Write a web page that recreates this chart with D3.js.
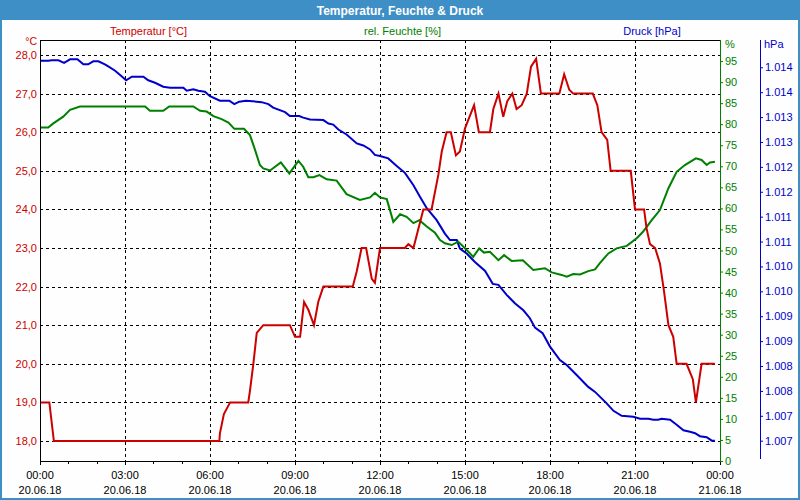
<!DOCTYPE html>
<html><head><meta charset="utf-8">
<script src="https://cdn.jsdelivr.net/npm/d3@7"></script>
<style>
html,body{margin:0;padding:0;background:#fdfefd;}
svg text{font-family:"Liberation Sans",Arial,sans-serif;}
</style></head>
<body><svg id="c" width="800" height="500"></svg>
<script>
// ---- data ----
const title = "Temperatur, Feuchte & Druck";
const seriesNames = ["Temperatur [°C]", "rel. Feuchte [%]", "Druck [hPa]"];
const xTickHours = [0,3,6,9,12,15,18,21,24];
const xTickTimes = ["00:00","03:00","06:00","09:00","12:00","15:00","18:00","21:00","00:00"];
const xTickDates = ["20.06.18","20.06.18","20.06.18","20.06.18","20.06.18","20.06.18","20.06.18","20.06.18","21.06.18"];
const tempTicks = [18,19,20,21,22,23,24,25,26,27,28];
const humTicks = [0,5,10,15,20,25,30,35,40,45,50,55,60,65,70,75,80,85,90,95];
const pressTicks = [1006.75,1007.25,1007.75,1008.25,1008.75,1009.25,1009.75,1010.25,1010.75,1011.25,1011.75,1012.25,1012.75,1013.25,1013.75,1014.25];

// temperature (hours, °C)
const tempHours = [0,0.33,0.49,6.33,6.35,6.49,6.71,7.35,7.41,7.53,7.65,7.88,8.82,9.0,9.18,9.32,9.47,9.67,9.82,10.0,11.04,11.18,11.35,11.51,11.71,11.82,12.0,12.88,13.0,13.18,13.53,13.82,14.06,14.18,14.35,14.5,14.68,14.82,15.0,15.32,15.49,15.88,16.0,16.18,16.35,16.49,16.67,16.82,17.0,17.18,17.33,17.51,17.68,18.33,18.5,18.68,18.82,19.51,19.67,19.82,20.02,20.14,20.85,21.0,21.32,21.41,21.53,21.71,21.88,22.02,22.18,22.35,22.47,22.82,23.04,23.15,23.35,23.82];
const tempValues = [19.0,19.0,18.0,18.0,18.2,18.7,19.0,19.0,19.3,20.0,20.8,21.0,21.0,20.7,20.7,21.6,21.4,21.0,21.6,22.0,22.0,22.4,23.0,23.0,22.2,22.1,23.0,23.0,23.1,23.0,24.0,24.0,24.9,25.5,26.0,26.0,25.4,25.5,26.1,26.7,26.0,26.0,26.6,27.0,26.4,26.8,27.0,26.6,26.7,27.0,27.7,27.9,27.0,27.0,27.5,27.1,27.0,27.0,26.7,26.0,25.8,25.0,25.0,24.0,24.0,23.5,23.1,23.0,22.6,21.9,21.0,20.7,20.0,20.0,19.6,19.0,20.0,20.0];

// relative humidity (hours, %)
const humHours = [0,0.29,0.47,0.82,1.06,1.41,3.71,3.88,4.35,4.56,5.41,5.65,5.88,6.12,6.41,6.65,6.86,7.2,7.41,7.59,7.76,7.88,8.12,8.5,8.8,9.12,9.29,9.47,9.65,9.86,10.12,10.47,10.82,11.29,11.65,11.82,12.0,12.24,12.47,12.71,12.94,13.18,13.39,13.65,13.94,14.12,14.29,14.53,14.76,15.06,15.29,15.5,15.67,15.88,16.18,16.38,16.65,17.04,17.41,17.82,18.06,18.41,18.59,18.82,19.06,19.35,19.59,19.76,20.06,20.35,20.71,21.06,21.29,21.59,21.88,22.18,22.47,22.76,23.15,23.35,23.53,23.65,23.82];
const humValues = [79.2,79.2,80.2,81.8,83.4,84.2,84.2,83.2,83.2,84.2,84.2,83.2,83.0,81.9,81.2,80.4,78.9,78.9,77.4,73.9,70.3,69.5,69.0,70.9,68.3,71.3,69.9,67.4,67.4,67.9,66.9,66.6,63.4,62.0,62.6,63.7,62.6,62.2,56.8,58.6,58.0,56.5,57.2,55.7,54.2,52.5,51.7,51.3,52.1,50.1,48.5,50.5,49.5,49.7,47.7,48.9,47.5,47.7,45.4,45.8,44.8,44.2,43.8,44.4,44.3,45.1,45.5,47.0,49.3,50.5,51.1,52.9,54.5,57.2,59.6,64.8,68.7,70.3,71.9,71.5,70.3,70.9,71.1];

// pressure (hours, hPa)
const pressHours = [0,0.29,0.41,0.65,0.85,1.06,1.32,1.53,1.7,1.88,2.06,2.29,2.41,2.65,2.88,3.04,3.24,3.65,3.82,4.06,4.35,4.59,5.06,5.18,5.41,5.59,5.82,6.0,6.35,6.68,6.86,7.03,7.27,7.82,8.06,8.23,8.65,8.82,9.15,9.29,9.53,10.0,10.18,10.35,10.53,10.82,11.18,11.41,11.65,11.82,12.0,12.29,12.59,12.88,13.18,13.41,13.65,14.0,14.29,14.47,14.71,14.82,15.06,15.35,15.71,15.98,16.18,16.47,16.76,17.06,17.29,17.47,17.74,18.0,18.35,18.59,18.94,19.35,19.59,20.0,20.24,20.53,20.94,21.18,21.47,21.65,21.82,21.94,22.24,22.47,22.71,22.94,23.12,23.29,23.53,23.71,23.82];
const pressValues = [1014.38,1014.38,1014.39,1014.39,1014.34,1014.41,1014.41,1014.31,1014.31,1014.37,1014.37,1014.31,1014.27,1014.18,1014.07,1013.99,1014.06,1014.06,1013.99,1013.94,1013.86,1013.84,1013.84,1013.78,1013.81,1013.78,1013.76,1013.67,1013.58,1013.58,1013.51,1013.56,1013.58,1013.55,1013.51,1013.44,1013.35,1013.27,1013.27,1013.24,1013.20,1013.19,1013.12,1013.10,1013.00,1012.90,1012.72,1012.68,1012.60,1012.49,1012.47,1012.42,1012.27,1012.13,1011.88,1011.65,1011.42,1011.18,1010.91,1010.78,1010.78,1010.61,1010.51,1010.34,1010.16,1009.90,1009.88,1009.68,1009.51,1009.37,1009.21,1009.02,1008.91,1008.64,1008.37,1008.27,1008.07,1007.83,1007.73,1007.50,1007.35,1007.25,1007.23,1007.19,1007.19,1007.17,1007.17,1007.19,1007.17,1007.07,1006.96,1006.93,1006.90,1006.84,1006.82,1006.75,1006.75];

// ---- layout ----
const L = 40, R = 720, T = 40, B = 461;
const cRed = "#cc0000", cGreen = "#008000", cBlue = "#0000cc", cBar = "#3d8fc6";
const svg = d3.select("#c");

const x = d3.scaleLinear().domain([0,24]).range([L,R]);
const yT = d3.scaleLinear().domain([18,28]).range([441,55]);
const yH = d3.scaleLinear().domain([0,100]).range([B,T]);
const yP = d3.scaleLinear().domain([1006.75,1014.25]).range([440.7,67.3]);

// frame
svg.append("rect").attr("x",1).attr("y",1).attr("width",798).attr("height",498)
  .attr("fill","#fdfefd").attr("stroke",cBar).attr("stroke-width",2);
svg.append("rect").attr("x",0).attr("y",0).attr("width",800).attr("height",20).attr("fill",cBar);
svg.append("text").attr("x",400).attr("y",14.5).attr("text-anchor","middle")
  .attr("fill","#fff").attr("font-weight","bold").attr("font-size",12).text(title);

// series labels
const labelX = [148.5, 402.5, 652];
const labelC = [cRed, cGreen, cBlue];
seriesNames.forEach((s,i)=>{
  svg.append("text").attr("x",labelX[i]).attr("y",35).attr("text-anchor","middle")
    .attr("fill",labelC[i]).attr("font-size",11).text(s);
});

// grid
const g = svg.append("g").attr("shape-rendering","crispEdges");
g.selectAll(".hg").data(tempTicks).join("line")
  .attr("x1",L).attr("x2",R).attr("y1",d=>Math.round(yT(d))+0.5).attr("y2",d=>Math.round(yT(d))+0.5)
  .attr("stroke","#000").attr("stroke-dasharray","3,3");
g.selectAll(".vg").data(xTickHours.slice(1,-1)).join("line")
  .attr("y1",T).attr("y2",B).attr("x1",d=>Math.round(x(d))+0.5).attr("x2",d=>Math.round(x(d))+0.5)
  .attr("stroke","#000").attr("stroke-dasharray","3,3");

// lines
const line = (yS)=>d3.line().x(d=>x(d[0])).y(d=>yS(d[1]));
const plot = svg.append("g");
plot.append("path").datum(pressHours.map((h,i)=>[h,pressValues[i]]))
  .attr("d",line(yP)).attr("fill","none").attr("stroke",cBlue).attr("stroke-width",2);
plot.append("path").datum(humHours.map((h,i)=>[h,humValues[i]]))
  .attr("d",line(yH)).attr("fill","none").attr("stroke",cGreen).attr("stroke-width",2);
plot.append("path").datum(tempHours.map((h,i)=>[h,tempValues[i]]))
  .attr("d",line(yT)).attr("fill","none").attr("stroke",cRed).attr("stroke-width",2);

// plot borders
const fr = svg.append("g").attr("shape-rendering","crispEdges");
fr.append("line").attr("x1",L).attr("x2",R).attr("y1",T+0.5).attr("y2",T+0.5).attr("stroke","#000");
fr.append("line").attr("x1",L+0.5).attr("x2",L+0.5).attr("y1",T).attr("y2",B).attr("stroke","#000");

// left axis labels
svg.append("text").attr("x",37).attr("y",45).attr("text-anchor","end").attr("fill",cRed).attr("font-size",10.5).text("°C");
svg.selectAll(".tl").data(tempTicks).join("text")
  .attr("x",37).attr("y",d=>yT(d)+4).attr("text-anchor","end").attr("fill",cRed).attr("font-size",11)
  .text(d=>d3.format(".1f")(d).replace(".",","));

// bottom axis
const xAxis = d3.axisBottom(x).tickValues(xTickHours).tickSize(4).tickFormat("");
const xa = svg.append("g").attr("transform",`translate(0,${B})`).call(xAxis);
xa.select(".domain").attr("stroke","#000").attr("d",`M${L},0.5H${R}`);
xa.selectAll(".tick line").attr("stroke","#000");
const minor = d3.range(0,25).filter(h=>h%3!==0);
svg.append("g").attr("shape-rendering","crispEdges").selectAll("line").data(minor).join("line")
  .attr("x1",d=>Math.round(x(d))+0.5).attr("x2",d=>Math.round(x(d))+0.5).attr("y1",B).attr("y2",B+3).attr("stroke","#000");
svg.selectAll(".xt").data(xTickHours).join("text")
  .attr("x",d=>x(d)).attr("y",479).attr("text-anchor","middle").attr("font-size",11).attr("fill","#000")
  .text((d,i)=>xTickTimes[i]);
svg.selectAll(".xd").data(xTickHours).join("text")
  .attr("x",d=>x(d)).attr("y",494).attr("text-anchor","middle").attr("font-size",11).attr("fill","#000")
  .text((d,i)=>xTickDates[i]);

// humidity axis (right, green)
const hAxis = d3.axisRight(yH).tickValues(humTicks).tickSize(3).tickFormat(d=>d);
const ha = svg.append("g").attr("transform",`translate(${R},0)`).call(hAxis);
ha.select(".domain").attr("stroke",cGreen).attr("d",`M0.5,${T}V${B+0.5}`);
ha.selectAll(".tick line").attr("stroke",cGreen);
ha.selectAll(".tick text").attr("fill",cGreen).attr("font-size",11).attr("x",5).attr("font-family","Liberation Sans, Arial");
svg.append("text").attr("x",725).attr("y",48).attr("fill",cGreen).attr("font-size",11).text("%");

// pressure axis (blue)
const pAxis = d3.axisRight(yP).tickValues(pressTicks).tickSize(3)
  .tickFormat(d=>{const v=Math.round(d).toString(); return v[0]+"."+v.slice(1);});
const pa = svg.append("g").attr("transform",`translate(760,0)`).call(pAxis);
pa.select(".domain").attr("stroke",cBlue).attr("d",`M0.5,${T}V${B-2}`);
pa.selectAll(".tick line").attr("stroke",cBlue);
pa.selectAll(".tick text").attr("fill",cBlue).attr("font-size",11).attr("x",5).attr("font-family","Liberation Sans, Arial");
svg.append("text").attr("x",764).attr("y",48).attr("fill",cBlue).attr("font-size",11).text("hPa");
</script></body></html>
